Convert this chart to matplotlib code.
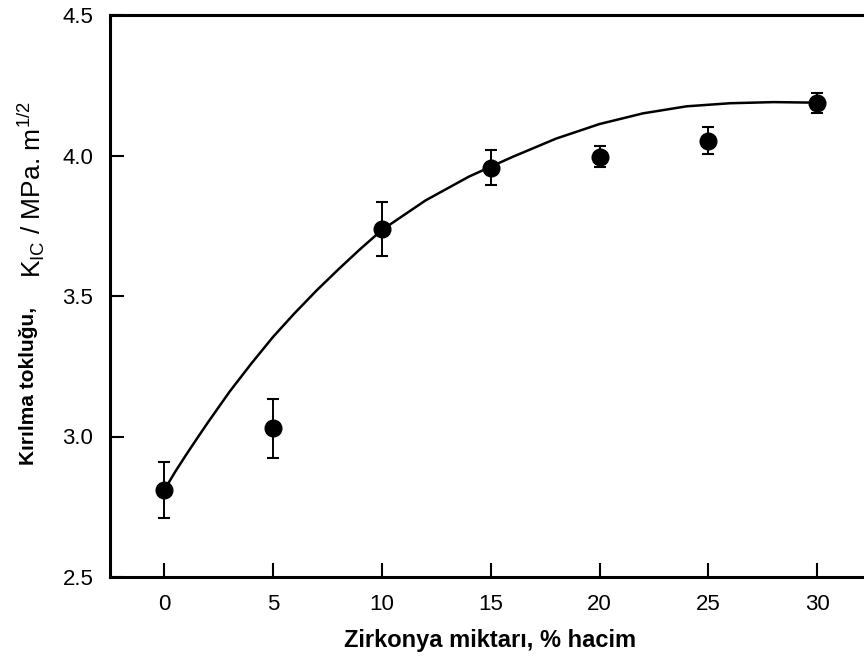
import numpy as np
import matplotlib
matplotlib.use("Agg")
import matplotlib.pyplot as plt

plt.rcParams['font.family'] = ['Liberation Sans', 'DejaVu Sans']
plt.rcParams['mathtext.fontset'] = 'custom'
plt.rcParams['mathtext.rm'] = 'Liberation Sans'
plt.rcParams['mathtext.it'] = 'Liberation Sans:italic'
plt.rcParams['mathtext.bf'] = 'Liberation Sans:bold'

# measured points (zirconia vol %, fracture toughness, error)
zirconia = [0, 5, 10, 15, 20, 25, 30]
toughness = [2.81, 3.03, 3.737, 3.957, 3.996, 4.053, 4.188]
toughness_err = [0.10, 0.105, 0.096, 0.062, 0.037, 0.048, 0.035]

# fitted trend line
curve_x = [0, 0.5, 1, 1.5, 2, 3, 4, 5, 6, 7, 8, 9, 10, 12, 14, 16, 18, 20, 22, 24, 26, 28, 30]
curve_y = [2.81, 2.875, 2.935, 2.993, 3.05, 3.16, 3.26, 3.355, 3.44, 3.52, 3.595, 3.667, 3.735,
           3.84, 3.925, 3.995, 4.06, 4.112, 4.15, 4.175, 4.186, 4.19, 4.188]

fig = plt.figure(figsize=(8.64, 6.6), dpi=100)
ax = fig.add_axes([110/864, 1 - 577/660, (871.5 - 110)/864, (577 - 15)/660])

ax.plot(curve_x, curve_y, color='black', linewidth=1.8, zorder=2)
ax.errorbar(zirconia, toughness, yerr=toughness_err, fmt='o', color='black',
            markersize=12, elinewidth=1.4, capsize=4.5, capthick=1.5, zorder=3)

ax.set_xlim(-2.5, 32.5)
ax.set_ylim(2.5, 4.5)
ax.set_xticks([0, 5, 10, 15, 20, 25, 30])
ax.set_yticks([2.5, 3.0, 3.5, 4.0, 4.5])
ax.set_yticklabels(['2.5', '3.0', '3.5', '4.0', '4.5'])

for side in ['left', 'bottom', 'top', 'right']:
    ax.spines[side].set_linewidth(2.2)

ax.tick_params(axis='both', direction='in', length=10, width=1.5, labelsize=16)
ax.tick_params(axis='y', pad=12)
ax.tick_params(axis='x', pad=12)

fig.text(490/864, 1 - 640/660, 'Zirkonya miktarı, % hacim', ha='center', va='center',
         fontsize=17, fontweight='bold')
fig.text(29/864, 1 - 386/660, 'Kırılma tokluğu,', rotation=90, ha='center', va='center',
         fontsize=15, fontweight='bold')
fig.text(31/864, 1 - 190/660, r'K$_{\mathrm{IC}}$ / MPa. m$^{\mathrm{1/2}}$', rotation=90,
         ha='center', va='center', fontsize=19)

fig.savefig('out.png', dpi=100)
